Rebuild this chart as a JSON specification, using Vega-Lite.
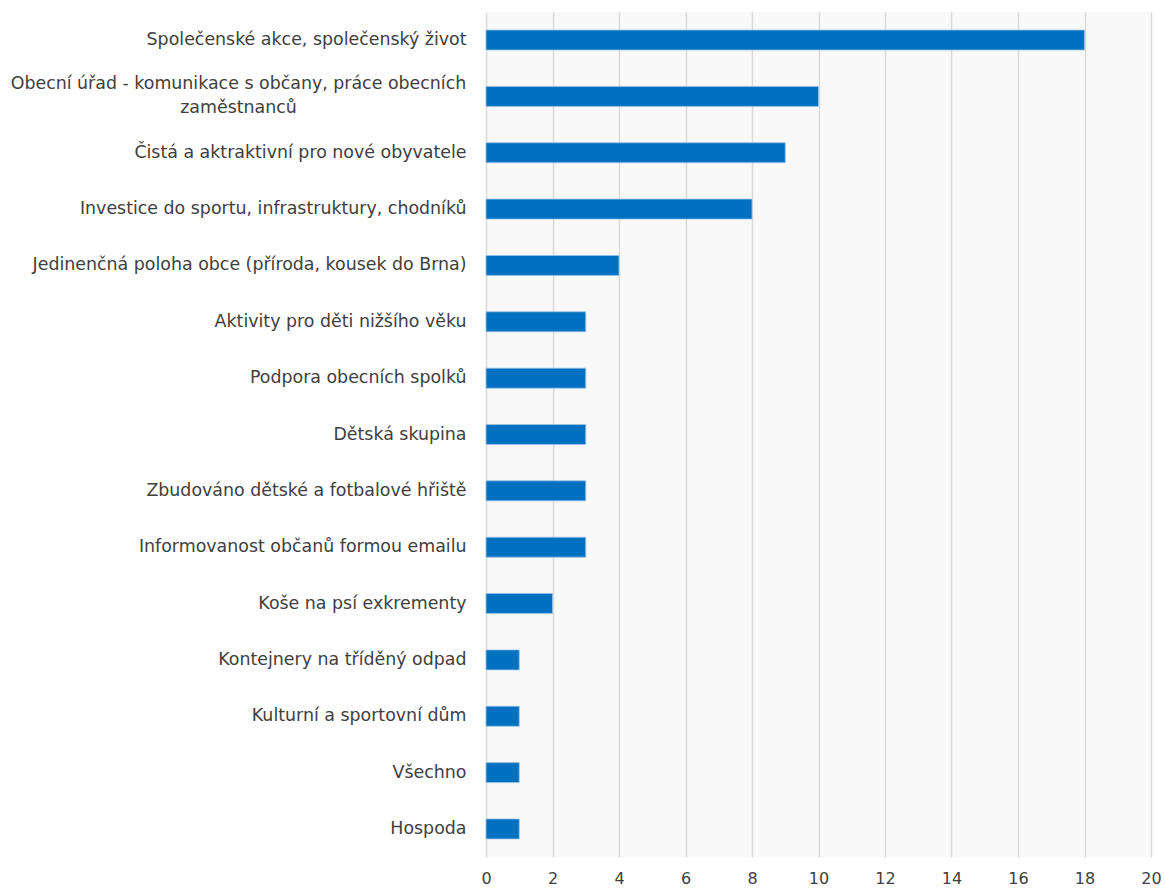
{
  "$schema": "https://vega.github.io/schema/vega-lite/v6.json",
  "autosize": {"type": "none"},
  "width": 665,
  "height": 845,
  "padding": {"left": 486, "top": 12, "right": 14, "bottom": 36},
  "background": "white",
  "view": {"fill": "#f9f9f9", "stroke": null},
  "data": {"values": [
    {"label": "Společenské akce, společenský život", "value": 18},
    {"label": "Obecní úřad - komunikace s občany, práce obecních|zaměstnanců", "value": 10},
    {"label": "Čistá a aktraktivní pro nové obyvatele", "value": 9},
    {"label": "Investice do sportu, infrastruktury, chodníků", "value": 8},
    {"label": "Jedinenčná poloha obce (příroda, kousek do Brna)", "value": 4},
    {"label": "Aktivity pro děti nižšího věku", "value": 3},
    {"label": "Podpora obecních spolků", "value": 3},
    {"label": "Dětská skupina", "value": 3},
    {"label": "Zbudováno dětské a fotbalové hřiště", "value": 3},
    {"label": "Informovanost občanů formou emailu", "value": 3},
    {"label": "Koše na psí exkrementy", "value": 2},
    {"label": "Kontejnery na tříděný odpad", "value": 1},
    {"label": "Kulturní a sportovní dům", "value": 1},
    {"label": "Všechno", "value": 1},
    {"label": "Hospoda", "value": 1}
  ]},
  "mark": {"type": "bar", "color": "#0070c0", "stroke": "#9dc3e6", "strokeWidth": 0.8},
  "encoding": {
    "y": {
      "field": "label", "type": "nominal", "sort": null,
      "scale": {"paddingInner": 0.645, "paddingOuter": 0.32},
      "axis": {
        "title": null, "domain": false, "ticks": false,
        "labelExpr": "split(datum.label, '|')",
        "labelFont": "DejaVu Sans", "labelFontSize": 17.4, "labelColor": "#404040",
        "labelLimit": 0, "labelLineHeight": 24,
        "labelAlign": {"condition": {"test": "indexof(datum.value, '|') >= 0", "value": "center"}, "value": "right"},
        "labelPadding": {"condition": {"test": "indexof(datum.value, '|') >= 0", "value": 248}, "value": 20},
        "labelOffset": {"condition": {"test": "indexof(datum.value, '|') >= 0", "value": -12}, "value": 0}
      }
    },
    "x": {
      "field": "value", "type": "quantitative",
      "scale": {"domain": [0, 20], "nice": false},
      "axis": {
        "title": null, "domain": false, "ticks": false, "values": [0,2,4,6,8,10,12,14,16,18,20],
        "grid": true, "gridColor": "#d9d9d9", "gridWidth": 1.5, "labelPadding": 13, "labelFlush": false,
        "labelFont": "DejaVu Sans", "labelFontSize": 16, "labelColor": "#404040"
      }
    }
  }
}
